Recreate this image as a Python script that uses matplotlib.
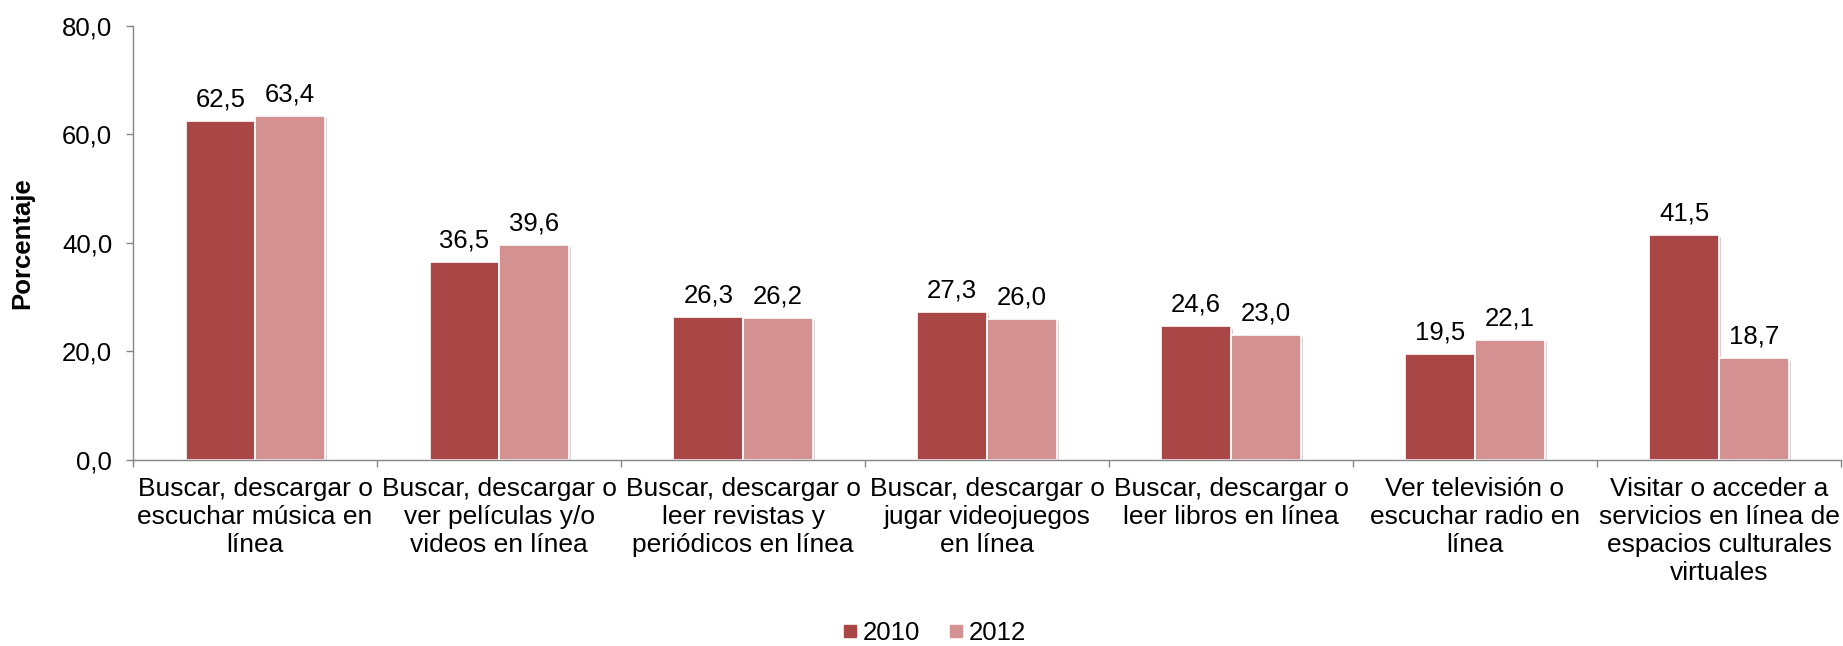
import matplotlib
matplotlib.use("Agg")
import matplotlib.pyplot as plt
import matplotlib.patheffects as pe
from matplotlib.lines import Line2D
from matplotlib.ticker import FuncFormatter, FixedLocator
import numpy as np

categories = [
    "Buscar, descargar o\nescuchar música en\nlínea",
    "Buscar, descargar o\nver películas y/o\nvideos en línea",
    "Buscar, descargar o\nleer revistas y\nperiódicos en línea",
    "Buscar, descargar o\njugar videojuegos\nen línea",
    "Buscar, descargar o\nleer libros en línea",
    "Ver televisión o\nescuchar radio en\nlínea",
    "Visitar o acceder a\nservicios en línea de\nespacios culturales\nvirtuales",
]
years = ["2010", "2012"]
values_2010 = [62.5, 36.5, 26.3, 27.3, 24.6, 19.5, 41.5]
values_2012 = [63.4, 39.6, 26.2, 26.0, 23.0, 22.1, 18.7]
colors = ["#A94646", "#D39191"]

plt.rcParams["font.family"] = ["Liberation Sans", "DejaVu Sans"]
FS = 18.5


def fmt_comma(v):
    return f"{v:.1f}".replace(".", ",")


fig = plt.figure(figsize=(18.43, 6.46), dpi=100)
ax = fig.add_axes([0.0722, 0.288, 0.9267, 0.672])

x = np.arange(len(categories))
width = 0.285
shadow = [pe.SimplePatchShadow(offset=(1.5, -1.5), alpha=0.2), pe.Normal()]

for i, vals in enumerate([values_2010, values_2012]):
    offs = (i - 0.5) * width
    bars = ax.bar(x + offs, vals, width, color=colors[i], edgecolor="white",
                  linewidth=1.2, label=years[i], zorder=2)
    for b in bars:
        b.set_path_effects(shadow)
    for xi, v in zip(x + offs, vals):
        ax.annotate(fmt_comma(v), (xi, v), xytext=(0, 7), textcoords="offset points",
                    ha="center", va="bottom", fontsize=FS)

ax.set_xlim(-0.5, len(categories) - 0.5)
ax.set_ylim(0, 80)
ax.set_yticks([0, 20, 40, 60, 80])
ax.yaxis.set_major_formatter(FuncFormatter(lambda v, p: fmt_comma(v)))

ax.set_xticks(x)
ax.set_xticklabels(categories, fontsize=19, linespacing=1.22)
ax.xaxis.set_minor_locator(FixedLocator(np.arange(-0.5, len(categories), 1.0)))
ax.tick_params(axis="x", which="major", length=0, pad=12)
ax.tick_params(axis="x", which="minor", length=5, color="#868686", width=1)
ax.tick_params(axis="y", length=5, color="#868686", width=1, labelsize=FS, pad=10)

for s in ["top", "right"]:
    ax.spines[s].set_visible(False)
for s in ["left", "bottom"]:
    ax.spines[s].set_color("#868686")
    ax.spines[s].set_linewidth(1)

ax.set_ylabel("Porcentaje", fontsize=FS, fontweight="bold")
ax.yaxis.set_label_coords(-0.058, 0.5)

handles = [Line2D([], [], marker="s", linestyle="none", markersize=8,
                  markerfacecolor=c, markeredgecolor=c) for c in colors]
fig.legend(handles, years, loc="center", bbox_to_anchor=(0.506, 0.02), ncol=2,
           frameon=False, fontsize=FS, handletextpad=0.1, columnspacing=1.0,
           handlelength=0.8)

fig.savefig("out.png", dpi=100)
